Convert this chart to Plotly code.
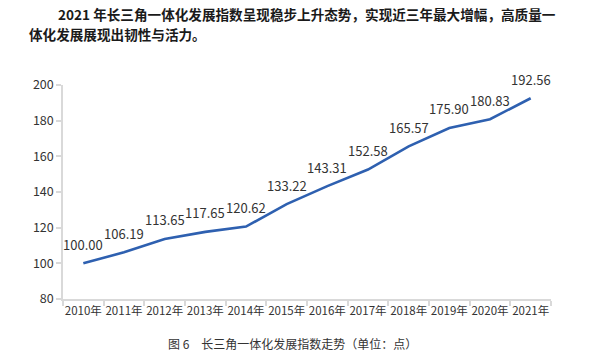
import plotly.graph_objects as go

years = ["2010年", "2011年", "2012年", "2013年", "2014年", "2015年",
         "2016年", "2017年", "2018年", "2019年", "2020年", "2021年"]
index_values = [100.00, 106.19, 113.65, 117.65, 120.62, 133.22,
                143.31, 152.58, 165.57, 175.90, 180.83, 192.56]
value_labels = [f"{v:.2f}" for v in index_values]

title_line1 = "2021 年长三角一体化发展指数呈现稳步上升态势，实现近三年最大增幅，高质量一"
title_line2 = "体化发展展现出韧性与活力。"
caption = "图 6　长三角一体化发展指数走势（单位：点）"

FONT = "Noto Sans CJK SC"

W, H = 600, 359
# plot area in page pixels
PL, PR, PT, PB = 63, 551, 85, 299

def px_x(px):
    return (px - PL) / (PR - PL)

def px_y(py):
    return (PB - py) / (PB - PT)

fig = go.Figure()
fig.add_trace(go.Scatter(
    x=years, y=index_values, mode="lines",
    line=dict(color="#2e60b0", width=2.6),
    hoverinfo="skip",
))

for yr, v, lab in zip(years, index_values, value_labels):
    fig.add_annotation(x=yr, y=v, text=lab, showarrow=False,
                       xanchor="center", yanchor="middle", yshift=19,
                       font=dict(family=FONT, size=13, color="#333333"))

fig.update_layout(
    width=W, height=H,
    margin=dict(l=PL, r=W - PR, t=PT, b=H - PB, autoexpand=False),
    paper_bgcolor="white", plot_bgcolor="white",
    showlegend=False,
    font=dict(family=FONT, color="#333333"),
)
fig.update_xaxes(
    type="category", range=[-0.5, 11.5], tickangle=0, automargin=False,
    showline=True, linecolor="#d9d9d9", linewidth=1.5,
    ticks="outside", tickson="boundaries", ticklen=5, tickcolor="#d9d9d9", tickwidth=1.5,
    showgrid=False, zeroline=False,
    tickfont=dict(family=FONT, size=11.5, color="#333333"),
)
fig.update_yaxes(
    range=[80, 200], dtick=20, tick0=80, automargin=False,
    showline=True, linecolor="#d9d9d9", linewidth=1.5,
    ticks="outside", ticklen=5, tickcolor="#d9d9d9", tickwidth=1.5,
    showgrid=False, zeroline=False,
    tickfont=dict(family=FONT, size=12.5, color="#333333"),
)

fig.add_annotation(text="<b>" + title_line1 + "</b>", xref="paper", yref="paper",
                   x=px_x(56), y=px_y(14), xanchor="left", yanchor="middle",
                   showarrow=False, font=dict(family=FONT, size=13.6, color="#1a1a1a"))
fig.add_annotation(text="<b>" + title_line2 + "</b>", xref="paper", yref="paper",
                   x=px_x(27), y=px_y(34), xanchor="left", yanchor="middle",
                   showarrow=False, font=dict(family=FONT, size=13.6, color="#1a1a1a"))
fig.add_annotation(text=caption, xref="paper", yref="paper",
                   x=px_x(292), y=px_y(343), xanchor="center", yanchor="middle",
                   showarrow=False, font=dict(family=FONT, size=12, color="#333333"))

fig.write_html("out.html", config={"displayModeBar": False},
               post_script="document.body.style.margin='0';")
